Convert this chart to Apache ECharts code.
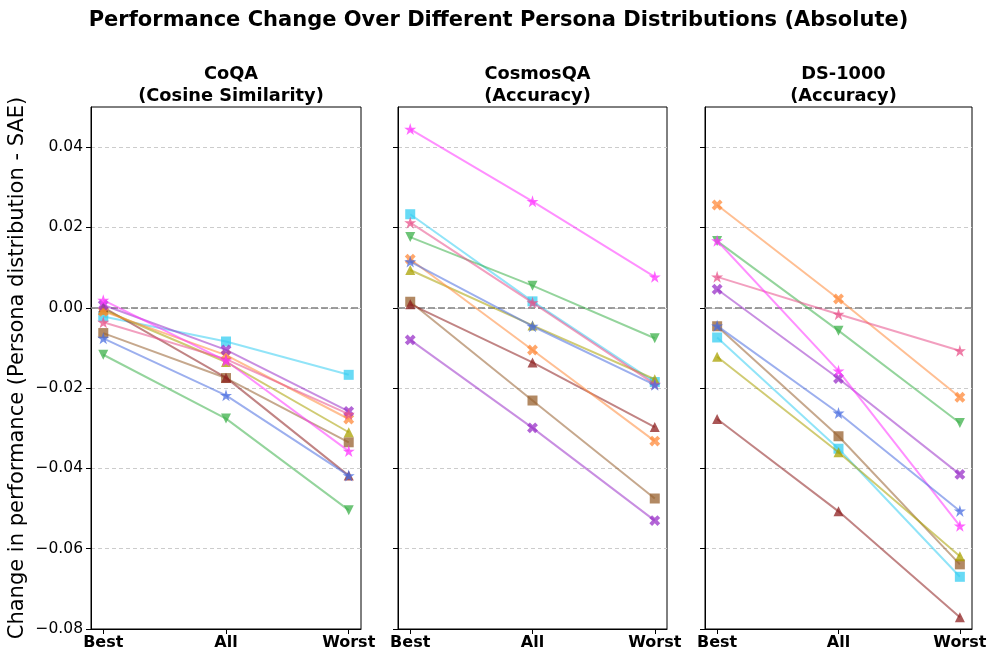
<!DOCTYPE html>
<html><head><meta charset="utf-8">
<script src="https://cdn.jsdelivr.net/npm/echarts@6/dist/echarts.min.js"></script>
<style>html,body{margin:0;padding:0;background:#fff}#c{width:997px;height:661px}</style>
</head><body><div id="c"></div>
<script>
const stages = ['Best', 'All', 'Worst'];
const panelTitles = ['CoQA\n(Cosine Similarity)', 'CosmosQA\n(Accuracy)', 'DS-1000\n(Accuracy)'];
const yTicks = [-0.08, -0.06, -0.04, -0.02, 0.00, 0.02, 0.04];
// persona order: pink, magenta, blue, cyan, brown, darkred, olive, green, orange, purple
const personas = ['p1','p2','p3','p4','p5','p6','p7','p8','p9','p10'];
const coqaBest  = [-0.0036, 0.0019, -0.0076, -0.0022, -0.0063, 0.0001, -0.0005, -0.0117, -0.0009, 0.0007];
const coqaAll   = [-0.0128, -0.0132, -0.0218, -0.0084, -0.0175, -0.0174, -0.0135, -0.0276, -0.0118, -0.0105];
const coqaWorst = [-0.0265, -0.0357, -0.0418, -0.0167, -0.0335, -0.0418, -0.0310, -0.0504, -0.0277, -0.0258];
const cosmosBest  = [0.0212, 0.0445, 0.0115, 0.0233, 0.0015, 0.0009, 0.0094, 0.0176, 0.0121, -0.0080];
const cosmosAll   = [0.0013, 0.0265, -0.0046, 0.0016, -0.0231, -0.0136, -0.0044, 0.0055, -0.0105, -0.0299];
const cosmosWorst = [-0.0190, 0.0077, -0.0192, -0.0185, -0.0475, -0.0297, -0.0178, -0.0076, -0.0332, -0.0530];
const dsBest  = [0.0077, 0.0167, -0.0045, -0.0074, -0.0046, -0.0277, -0.0122, 0.0166, 0.0256, 0.0046];
const dsAll   = [-0.0016, -0.0157, -0.0262, -0.0351, -0.0320, -0.0507, -0.0360, -0.0057, 0.0022, -0.0176];
const dsWorst = [-0.0107, -0.0543, -0.0506, -0.0670, -0.0639, -0.0771, -0.0619, -0.0287, -0.0223, -0.0415];

const panels = [[coqaBest, coqaAll, coqaWorst], [cosmosBest, cosmosAll, cosmosWorst], [dsBest, dsAll, dsWorst]];

const STAR = 'path://M0,-1 L0.2245,-0.309 L0.951,-0.309 L0.363,0.118 L0.588,0.809 L0,0.382 L-0.588,0.809 L-0.363,0.118 L-0.951,-0.309 L-0.2245,-0.309 Z';
const XMARK = 'path://M-0.34,-1 L0.34,-1 L0.34,-0.34 L1,-0.34 L1,0.34 L0.34,0.34 L0.34,1 L-0.34,1 L-0.34,0.34 L-1,0.34 L-1,-0.34 L-0.34,-0.34 Z';
const styles = [
  {c:'#e8518a', s:STAR, z:11, r:0, size:12},
  {c:'#ff33ff', s:STAR, z:11, r:0, size:12},
  {c:'#4a6ee0', s:STAR, z:11, r:0, size:12},
  {c:'#36cef2', s:'rect', z:9, r:0, size:10},
  {c:'#98612f', s:'rect', z:9, r:0, size:10},
  {c:'#8e1f1f', s:'triangle', z:10, r:0, size:10},
  {c:'#aaa100', s:'triangle', z:10, r:0, size:10},
  {c:'#3cb04a', s:'triangle', z:10, r:180, size:10},
  {c:'#ff8a3a', s:XMARK, z:10, r:45, size:11.5},
  {c:'#9a32c8', s:XMARK, z:10, r:45, size:11.5}
];

const lefts = [91, 398, 705];
const widths = [270, 269, 267];
const TOP = 107, H = 522;
const fmt = v => { const s = Math.abs(v).toFixed(2); return (v < -1e-9 ? '\u2212' : '') + s; };

const grids = [], xAxes = [], yAxes = [], series = [], titles = [];
titles.push({text:'Performance Change Over Different Persona Distributions (Absolute)', left:'center', top:5,
  textStyle:{fontFamily:'DejaVu Sans', fontSize:21, fontWeight:'bold', color:'#000'}});
panels.forEach((p, gi) => {
  const W = widths[gi];
  grids.push({left:lefts[gi], top:TOP, width:W, height:H, show:true, borderColor:'#000', borderWidth:1, backgroundColor:'transparent'});
  titles.push({text:panelTitles[gi], left:lefts[gi] + W/2, top:58, textAlign:'center',
    textStyle:{fontFamily:'DejaVu Sans', fontSize:17.8, fontWeight:'bold', color:'#000', lineHeight:22}});
  xAxes.push({type:'value', gridIndex:gi, min:-0.1, max:2.1,
    axisLine:{show:true, onZero:false, lineStyle:{color:'#000', width:1}},
    axisTick:{show:true, customValues:[0,1,2], length:5, lineStyle:{color:'#000'}},
    axisLabel:{show:true, customValues:[0,1,2], formatter:v => stages[Math.round(v)] || '', fontFamily:'DejaVu Sans', fontSize:16, fontWeight:'bold', color:'#000', margin:6},
    splitLine:{show:false}});
  yAxes.push({type:'value', gridIndex:gi, min:-0.08, max:0.05,
    axisLine:{show:true, onZero:false, lineStyle:{color:'#000', width:1}},
    axisTick:{show:true, customValues:yTicks, length:5, lineStyle:{color:'#000'}},
    axisLabel:{show:gi === 0, customValues:yTicks, formatter:fmt, fontFamily:'DejaVu Sans', fontSize:15.5, color:'#000', margin:8},
    splitLine:{show:true, lineStyle:{color:'#cccccc', type:[4,3], width:1}},
    name: gi === 0 ? 'Change in performance (Persona distribution - SAE)' : '',
    nameLocation:'middle', nameGap:63, nameRotate:90,
    nameTextStyle:{fontFamily:'DejaVu Sans', fontSize:21, color:'#000'}});
  series.push({type:'line', xAxisIndex:gi, yAxisIndex:gi, data:[], silent:true, z:3,
    markLine:{silent:true, symbol:'none', label:{show:false}, data:[{yAxis:0}],
      lineStyle:{color:'#808080', type:[7,3], width:1.5}}});
  personas.forEach((name, k) => {
    const st = styles[k];
    series.push({type:'line', name:name, xAxisIndex:gi, yAxisIndex:gi, z:st.z,
      data: stages.map((s, i) => [i, p[i][k]]),
      symbol:st.s, symbolRotate:st.r, symbolSize:st.size,
      showSymbol:true, animation:false,
      lineStyle:{color:st.c, width:2, opacity:0.55},
      itemStyle:{color:st.c, opacity:0.75, borderWidth:0}});
  });
});

const chart = echarts.init(document.getElementById('c'), null, {renderer:'canvas'});
chart.setOption({animation:false, title:titles, grid:grids, xAxis:xAxes, yAxis:yAxes, series:series});
</script></body></html>
